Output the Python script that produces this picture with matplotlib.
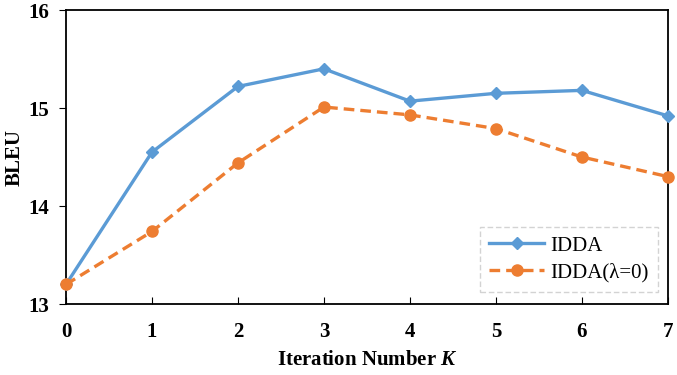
import matplotlib.pyplot as plt

iterations = [0, 1, 2, 3, 4, 5, 6, 7]
idda = [13.20, 14.55, 15.22, 15.40, 15.07, 15.15, 15.18, 14.92]
idda_lambda0 = [13.20, 13.74, 14.44, 15.01, 14.93, 14.79, 14.50, 14.30]

plt.rcParams['font.family'] = ['Liberation Serif', 'DejaVu Serif']
plt.rcParams['font.weight'] = 'bold'
plt.rcParams['mathtext.fontset'] = 'custom'
plt.rcParams['mathtext.it'] = 'Liberation Serif:italic:bold'
plt.rcParams['mathtext.rm'] = 'Liberation Serif:bold'

fig = plt.figure(figsize=(6.77, 3.75), dpi=100)
ax = fig.add_axes([0.0975, 0.1893, 0.889, 0.784])

ax.plot(iterations, idda, color='#5B9BD5', linewidth=2.4, marker='D',
        markersize=6.5, label='IDDA', clip_on=False, zorder=3)
ax.plot(iterations, idda_lambda0, color='#ED7D31', linewidth=2.4,
        linestyle=(0, (3.2, 1.8)), marker='o', markersize=8,
        label='IDDA(λ=0)', clip_on=False, zorder=3)

ax.set_xlim(0, 7)
ax.set_ylim(13, 16)
ax.set_xticks(iterations)
ax.set_yticks([13, 14, 15, 16])
ax.tick_params(axis='x', direction='in', length=5, pad=13, labelsize=15)
ax.tick_params(axis='y', direction='out', length=5, pad=7, labelsize=15)
for s in ax.spines.values():
    s.set_linewidth(1.3)

ax.set_xlabel('Iteration Number $K$', fontsize=15, fontweight='bold', labelpad=6)
ax.set_ylabel('BLEU', fontsize=15, fontweight='bold')
ax.yaxis.set_label_coords(-0.069, 0.5)

leg = ax.legend(loc='lower right', bbox_to_anchor=(0.983, 0.041), borderaxespad=0,
                frameon=True, fancybox=False, handlelength=2.6, handletextpad=0.3,
                borderpad=0.45, labelspacing=0.35,
                prop={'weight': 'normal', 'size': 15})
frame = leg.get_frame()
frame.set_edgecolor('#C8C8C8')
frame.set_linestyle((0, (4, 2)))
frame.set_linewidth(1.0)

fig.savefig('out.png', dpi=100)
